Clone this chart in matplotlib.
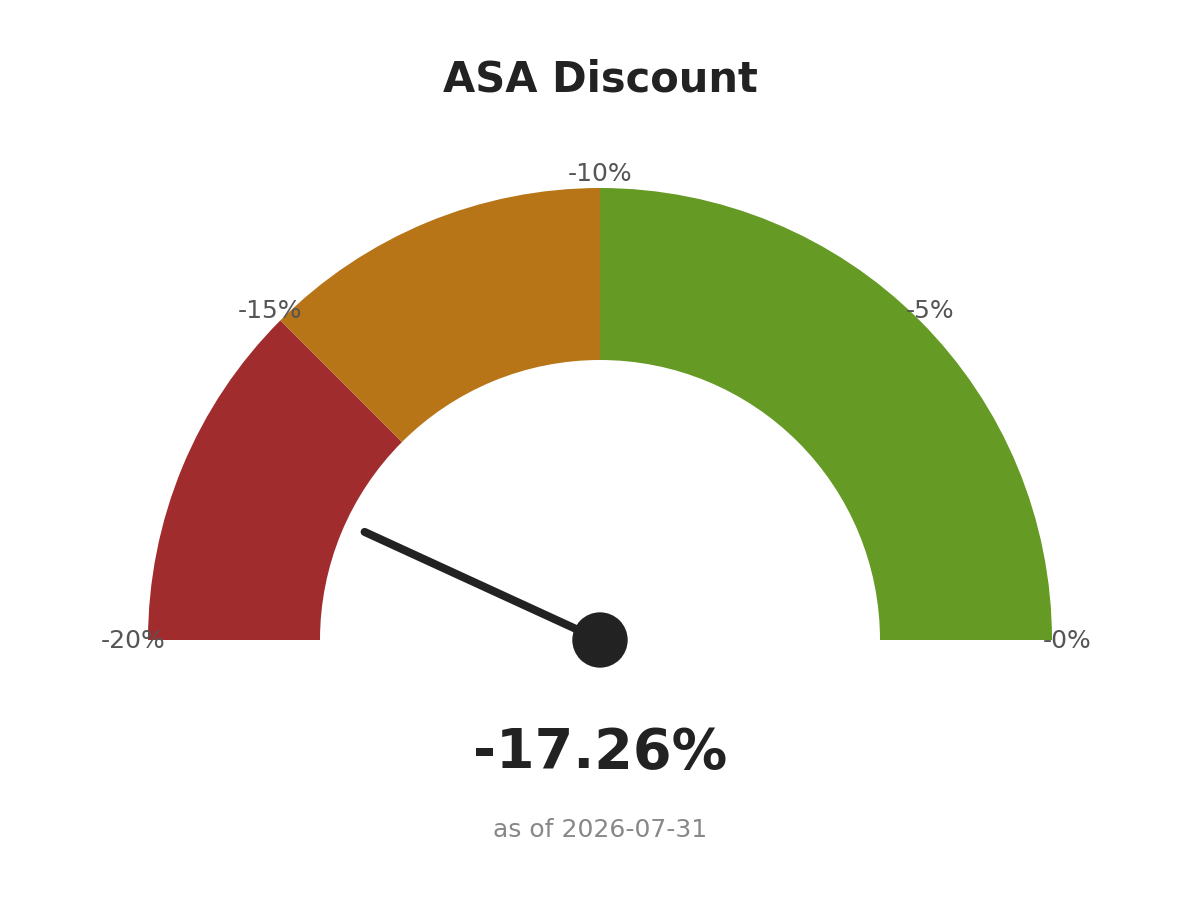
import matplotlib
matplotlib.use("Agg")
import matplotlib.pyplot as plt
from matplotlib.patches import Wedge, Circle
import numpy as np

# gauge data
title = "ASA Discount"
gauge_min, gauge_max = -20, 0
band_edges = [-20, -15, -10, 0]
band_colors = ["#A12C2E", "#B87518", "#659A24"]
tick_values = [-20, -15, -10, -5, 0]
tick_labels = ["-20%", "-15%", "-10%", "-5%", "-0%"]
value = -17.26
as_of = "2026-07-31"


def to_angle(v):
    # -20 -> 180 deg (left), 0 -> 0 deg (right)
    frac = (v - gauge_min) / (gauge_max - gauge_min)
    return 180.0 * (1 - frac)


fig = plt.figure(figsize=(12, 9.19), dpi=100)
ax = fig.add_axes([0, 0, 1, 1])
ax.set_xlim(0, 1200)
ax.set_ylim(0, 919)
ax.set_aspect("equal")
ax.axis("off")

cx, cy = 600, 919 - 640
r_out, r_in = 452, 280

for lo, hi, col in zip(band_edges[:-1], band_edges[1:], band_colors):
    ax.add_patch(Wedge((cx, cy), r_out, to_angle(hi), to_angle(lo),
                       width=r_out - r_in, facecolor=col, edgecolor="none"))

for v, lab in zip(tick_values, tick_labels):
    a = np.radians(to_angle(v))
    ax.text(cx + 467 * np.cos(a), cy + 467 * np.sin(a) - 1, lab,
            ha="center", va="center", fontsize=18, color="#555555")

a = np.radians(to_angle(value))
nl = 259
ax.plot([cx, cx + nl * np.cos(a)], [cy, cy + nl * np.sin(a)],
        color="#222222", lw=5.8, solid_capstyle="round", zorder=5)
ax.add_patch(Circle((cx, cy), 27, color="#222222", zorder=6))

ax.text(600, 919 - 79, title, ha="center", va="center",
        fontsize=30, fontweight="bold", color="#222222")
ax.text(600, 919 - 753, f"{value:.2f}%", ha="center", va="center",
        fontsize=40, fontweight="bold", color="#222222")
ax.text(600, 919 - 830, f"as of {as_of}", ha="center", va="center",
        fontsize=18, color="#888888")

fig.patch.set_facecolor("white")
fig.savefig("out.png", dpi=100, facecolor="white")
